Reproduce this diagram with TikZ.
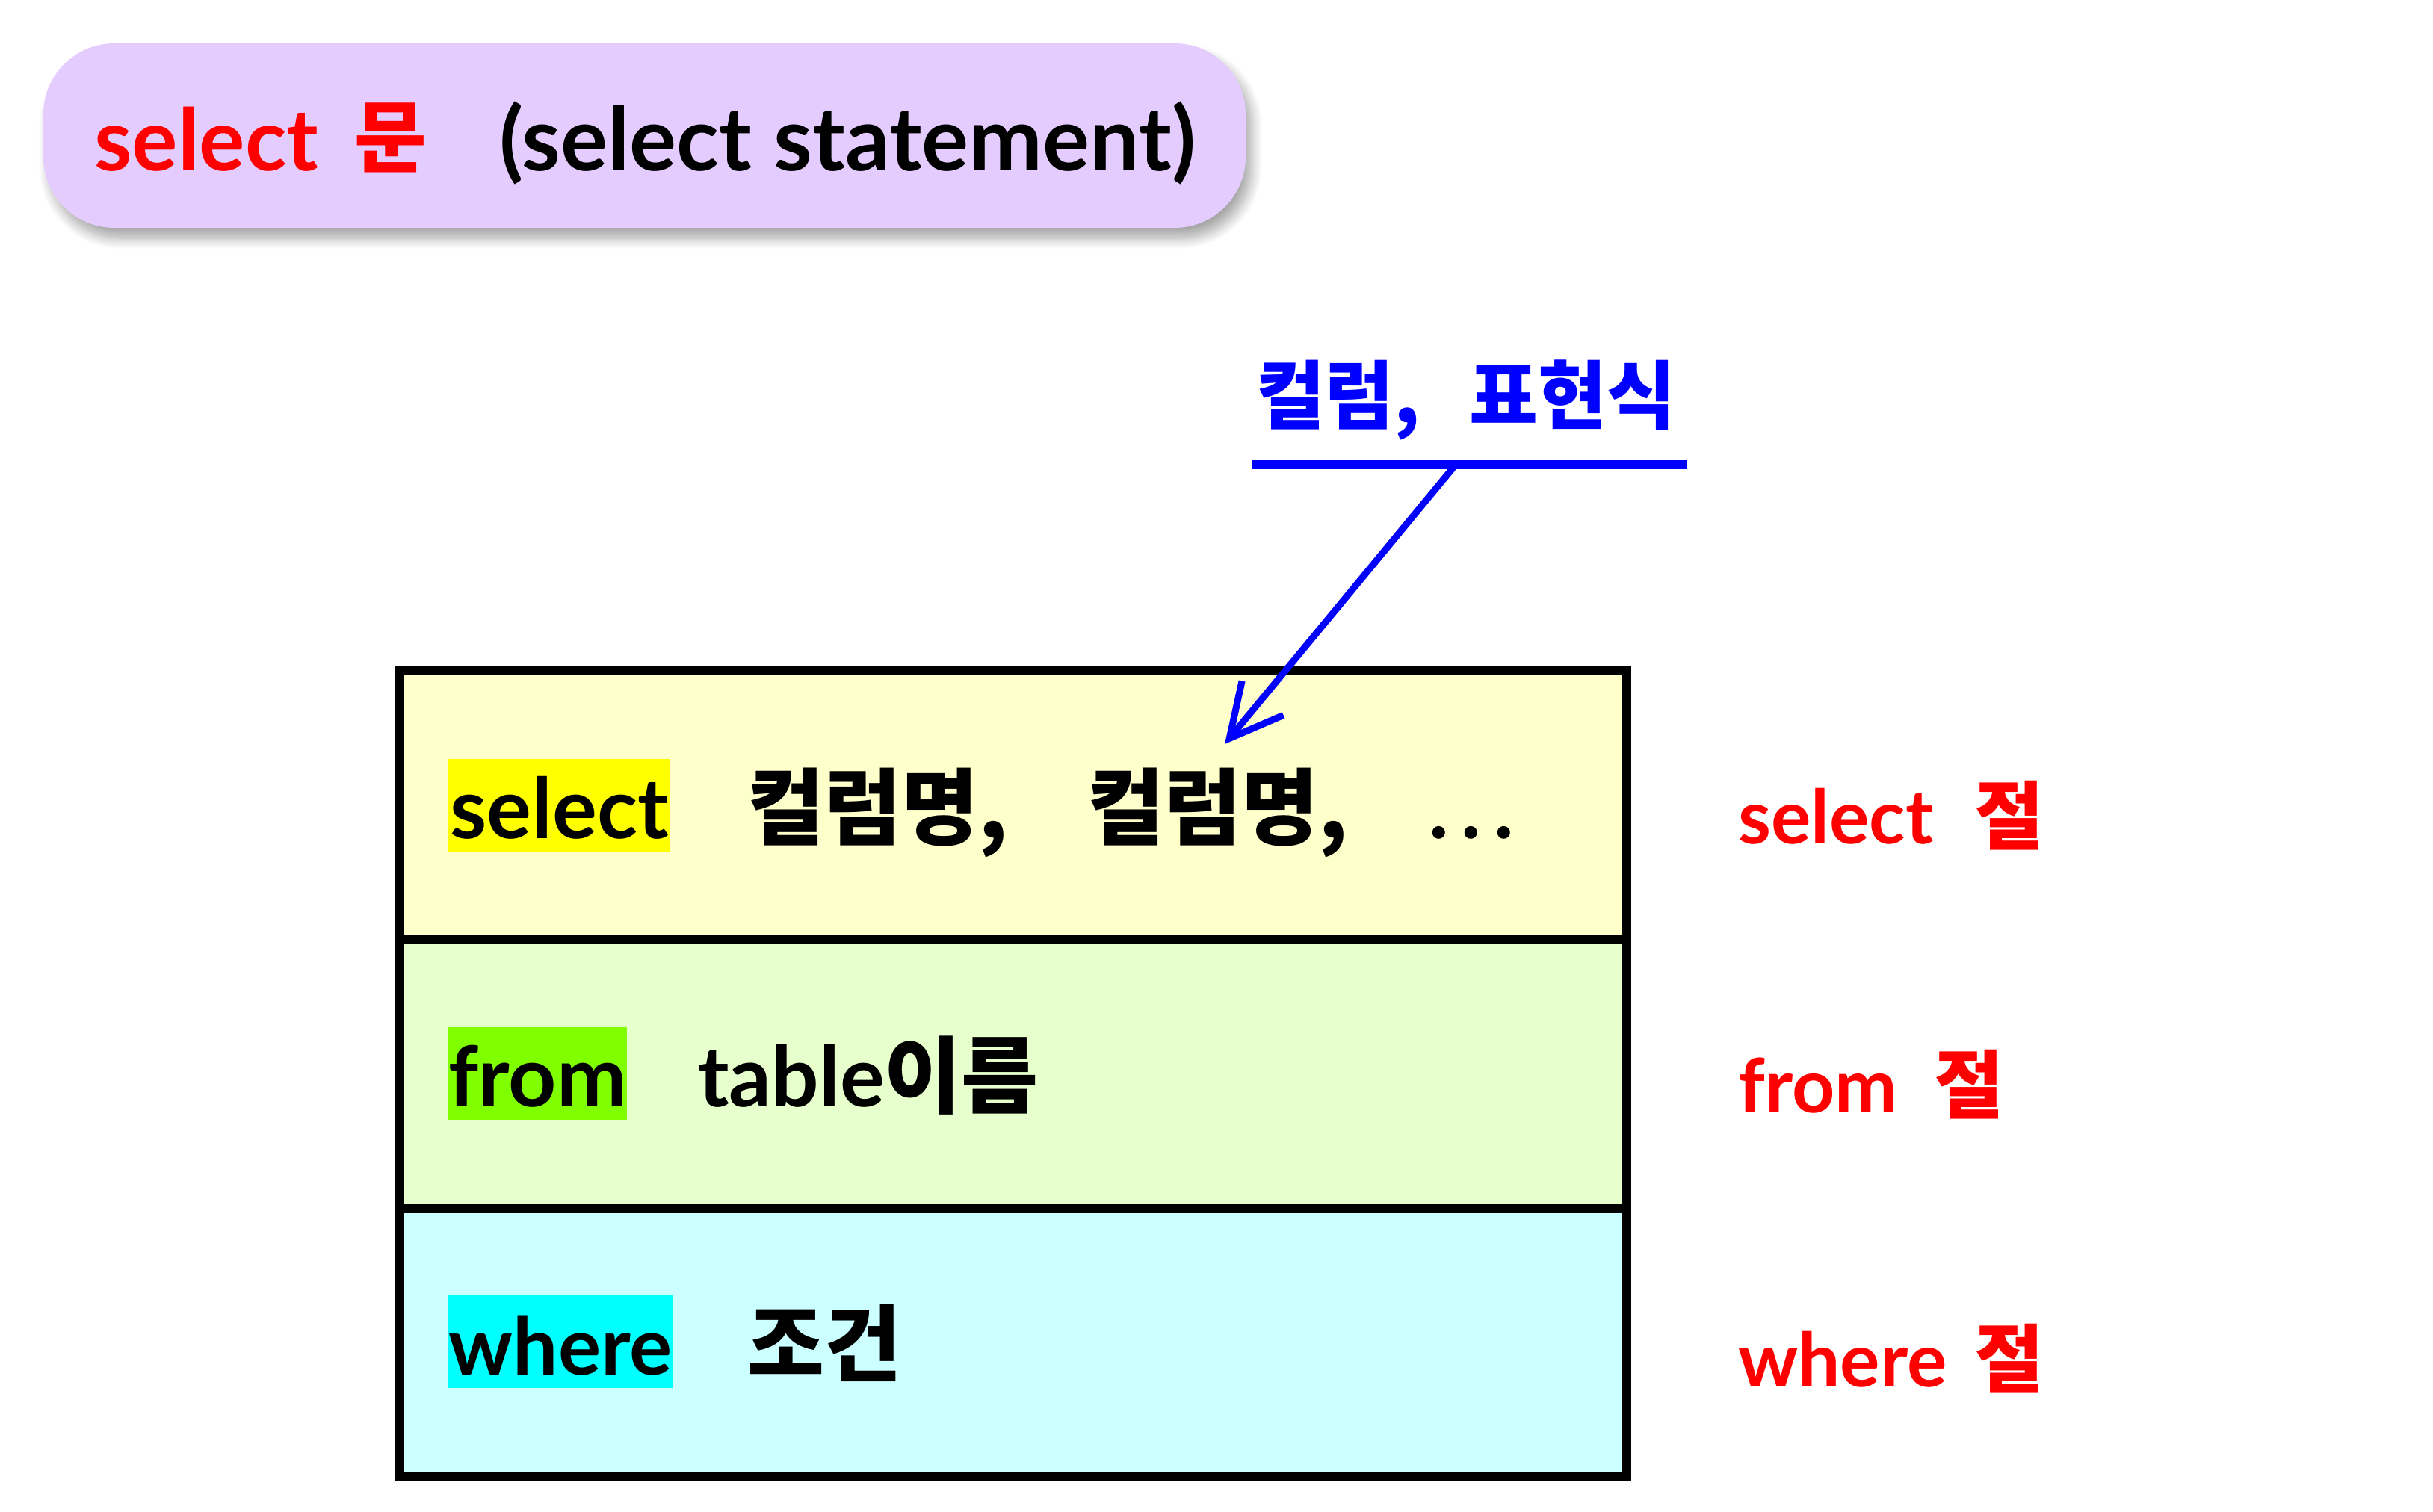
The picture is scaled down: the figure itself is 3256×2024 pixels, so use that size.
\documentclass[tikz,border=0pt]{standalone}
\usepackage{fontspec}
\setmainfont{Lato}
\newfontfamily\kr{Noto Sans CJK KR}
\usetikzlibrary{arrows.meta,shadows.blur}
\definecolor{lav}{RGB}{229,204,255}
\definecolor{rowA}{RGB}{255,255,204}
\definecolor{rowB}{RGB}{230,255,204}
\definecolor{rowC}{RGB}{204,255,255}
\definecolor{hlA}{RGB}{255,255,0}
\definecolor{hlB}{RGB}{128,255,0}
\definecolor{hlC}{RGB}{0,255,255}
\newcommand\fsz[1]{\fontsize{#1}{#1}\selectfont}
\begin{document}
\begin{tikzpicture}[x=1pt,y=-1pt,
  lbl/.style={inner sep=0pt, anchor=base west, font=\bfseries},
  rowtxt/.style={lbl, font=\bfseries\fsz{112}},
  sidetxt/.style={lbl, text=red, font=\bfseries\fsz{100}},
  hl/.style={rowtxt, text height=106pt, text depth=18pt},
  rowbox/.style={draw=black, line width=12pt, minimum width=1642pt, inner sep=0pt},
  titlebox/.style={fill=lav, rounded corners=95pt, minimum width=1609pt, minimum height=247pt, inner sep=0pt,
     blur shadow={shadow xshift=8pt, shadow yshift=-14pt, shadow blur steps=12, shadow blur radius=14pt, shadow opacity=35}}
]
\useasboundingbox (0,0) rectangle (3256,2024);
% title
\node[titlebox] (title) at (862.5,181.5) {};
\node[lbl, text=red, font=\bfseries\fsz{115}] (tsel) at (126,228) {select};
\node[lbl, text=red, font=\bfseries\fsz{105}] (tmun) at (474,222) {\kr\bfseries 문};
\node[lbl, font=\bfseries\fsz{118}] (tstm) at (668,228) {(select statement)};
% rows
\node[rowbox, fill=rowA, minimum height=359pt] (rsel) at (1356,1077.5) {};
\node[rowbox, fill=rowB, minimum height=361pt] (rfrom) at (1356,1437.5) {};
\node[rowbox, fill=rowC, minimum height=359pt] (rwhere) at (1356,1797.5) {};
% row 1
\node[hl, fill=hlA, minimum width=297pt] (kwsel) at (600,1122) {select};
\node[rowtxt] (c1) at (1000,1122) {\kr\bfseries 컬럼명,};
\node[rowtxt] (c2) at (1455,1122) {\kr\bfseries 컬럼명,};
\node[rowtxt] (dots) at (1912,1122) {.\hspace{17pt}.\hspace{17pt}.};
% row 2
\node[hl, fill=hlB, minimum width=239pt] (kwfrom) at (600,1481) {from};
\node[rowtxt] (tbl) at (934,1481) {table{\kr\bfseries 이름}};
% row 3
\node[hl, fill=hlC, minimum width=300pt, font=\bfseries\fsz{107}] (kwwhere) at (600,1840) {where};
\node[rowtxt] (cond) at (1000,1840) {\kr\bfseries 조건};
% side labels
\node[sidetxt] (ls) at (2326,1129) {select};
\node[sidetxt] (lsk) at (2643,1129) {\kr\bfseries 절};
\node[sidetxt] (lf) at (2326,1489) {from};
\node[sidetxt] (lfk) at (2589,1489) {\kr\bfseries 절};
\node[sidetxt] (lw) at (2326,1856) {where};
\node[sidetxt] (lwk) at (2643,1856) {\kr\bfseries 절};
% blue label
\node[inner sep=0pt, text=blue, font=\fsz{100}] (col) at (1962,535) {\kr\bfseries 컬럼,\hspace{66pt}표현식};
\coordinate (ulL) at (1676,622);
\coordinate (ulR) at (2258,622);
\coordinate (ulA) at (1948,622);
\coordinate (tip) at (1639,996);
\draw[blue, line width=12pt] (ulL) -- (ulR);
\draw[blue, line width=9pt, -{Straight Barb[length=70pt,width=72pt]}] (ulA) -- (tip);
\end{tikzpicture}
\end{document}
